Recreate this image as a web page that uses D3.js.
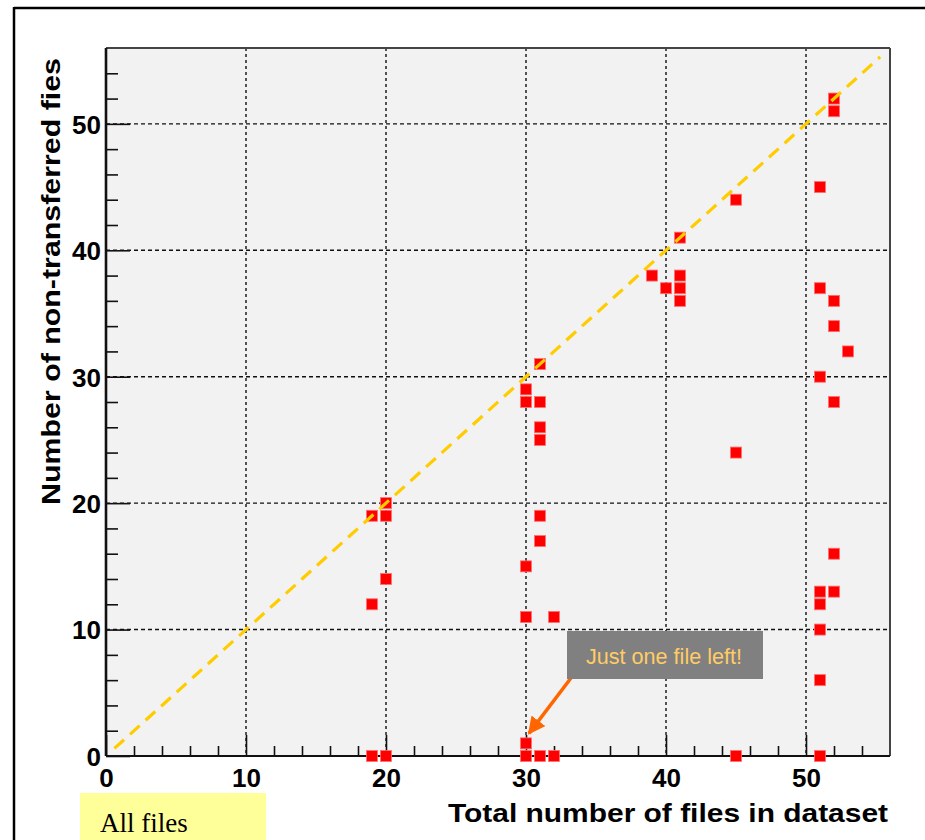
<!DOCTYPE html>
<html>
<head>
<meta charset="utf-8">
<script src="https://cdn.jsdelivr.net/npm/d3@7/dist/d3.min.js"></script>
<style>
  html, body { margin: 0; padding: 0; background: #ffffff; }
  svg { display: block; }
</style>
</head>
<body>
<svg id="chart" width="925" height="840"></svg>
<script>
// ---- data ----
const xTotal = [19,19,19, 20,20,20,20, 30,30,30,30,30,30, 31,31,31,31,31,31,31, 32,32, 39, 40, 41,41,41,41, 45,45,45, 51,51,51,51,51,51,51,51, 52,52,52,52,52,52,52, 53];
const yLeft  = [19,12,0, 20,19,14,0, 29,28,15,11,1,0, 31,28,26,25,19,17,0, 11,0, 38, 37, 41,38,37,36, 44,24,0, 45,37,30,13,12,10,6,0, 52,51,36,34,28,16,13, 32];
const majorTicks = [0,10,20,30,40,50];
const minorTicks = [2,4,6,8,12,14,16,18,22,24,26,28,32,34,36,38,42,44,46,48,52,54];
const diagonal = [0.6, 55.3];
const xTitle = "Total number of files in dataset";
const yTitle = "Number of non-transferred fies";
const noteText = "Just one file left!";
const noteTarget = [30, 1];
const tagText = "All files";

// ---- layout ----
const svg = d3.select("#chart");
const L = 106, R = 890, T = 48, B = 756;
const x = d3.scaleLinear().domain([0, 56]).range([L, R]);
const y = d3.scaleLinear().domain([0, 56]).range([B, T]);

// outer frame (top & left)
svg.append("line").attr("x1", 14).attr("x2", 925).attr("y1", 8).attr("y2", 8)
  .attr("stroke", "#000").attr("stroke-width", 2.5);
svg.append("line").attr("x1", 14).attr("x2", 14).attr("y1", 7).attr("y2", 840)
  .attr("stroke", "#000").attr("stroke-width", 2.5);

// plot background
svg.append("rect").attr("x", L).attr("y", T).attr("width", R - L).attr("height", B - T)
  .attr("fill", "#f2f2f2");

// grid
const grid = svg.append("g");
majorTicks.filter(d => d > 0).forEach(d => {
  grid.append("line").attr("x1", x(d)).attr("x2", x(d)).attr("y1", T).attr("y2", B)
    .attr("stroke", "#111").attr("stroke-width", 1.4).attr("stroke-dasharray", "3,3");
  grid.append("line").attr("x1", L).attr("x2", R).attr("y1", y(d)).attr("y2", y(d))
    .attr("stroke", "#111").attr("stroke-width", 1.4).attr("stroke-dasharray", "4,3");
});

// frame top/right
svg.append("line").attr("x1", L).attr("x2", R).attr("y1", T).attr("y2", T)
  .attr("stroke", "#444").attr("stroke-width", 2);
svg.append("line").attr("x1", R).attr("x2", R).attr("y1", T).attr("y2", B)
  .attr("stroke", "#444").attr("stroke-width", 2);

// axes
function styleAxis(g) {
  g.select(".domain").remove();
  g.selectAll(".tick line").attr("stroke", "#111").attr("stroke-width", 1.6);
}
const labelFont = "'Liberation Sans', Arial, Helvetica, sans-serif";

const xMinor = svg.append("g").attr("transform", `translate(0,${B})`)
  .call(d3.axisBottom(x).tickValues(minorTicks).tickSizeInner(-10).tickSizeOuter(0).tickFormat(""));
styleAxis(xMinor);
const xMajor = svg.append("g").attr("transform", `translate(0,${B})`)
  .call(d3.axisBottom(x).tickValues(majorTicks).tickSizeInner(-21).tickSizeOuter(0).tickPadding(31).tickFormat(d3.format("d")));
styleAxis(xMajor);
xMajor.selectAll(".tick text").attr("font-family", labelFont).attr("font-weight", "bold")
  .attr("font-size", 26).attr("fill", "#000").attr("dy", 0).attr("y", 31);

const yMinor = svg.append("g").attr("transform", `translate(${L},0)`)
  .call(d3.axisLeft(y).tickValues(minorTicks).tickSizeInner(-12).tickSizeOuter(0).tickFormat(""));
styleAxis(yMinor);
const yMajor = svg.append("g").attr("transform", `translate(${L},0)`)
  .call(d3.axisLeft(y).tickValues(majorTicks).tickSizeInner(-24).tickSizeOuter(0).tickFormat(d3.format("d")));
styleAxis(yMajor);
yMajor.selectAll(".tick text").attr("font-family", labelFont).attr("font-weight", "bold")
  .attr("font-size", 26).attr("fill", "#000").attr("x", -5).attr("dy", "0.36em");

// axis lines
svg.append("line").attr("x1", L).attr("x2", R).attr("y1", B).attr("y2", B)
  .attr("stroke", "#111").attr("stroke-width", 2.2);
svg.append("line").attr("x1", L).attr("x2", L).attr("y1", T).attr("y2", B)
  .attr("stroke", "#111").attr("stroke-width", 2.6);

// points
const pts = xTotal.map((d, i) => ({ x: d, y: yLeft[i] }));
svg.append("g").selectAll("rect").data(pts).join("rect")
  .attr("x", d => x(d.x) - 5.5).attr("y", d => y(d.y) - 5.5)
  .attr("width", 11).attr("height", 11)
  .attr("fill", "#ff0000").attr("stroke", "#ff7070").attr("stroke-width", 0.8);

// diagonal y = x
svg.append("line")
  .attr("x1", x(diagonal[0])).attr("y1", y(diagonal[0]))
  .attr("x2", x(diagonal[1])).attr("y2", y(diagonal[1]))
  .attr("stroke", "#ffcc00").attr("stroke-width", 3.2).attr("stroke-dasharray", "13,8");

// axis titles
svg.append("text").attr("x", 888).attr("y", 822).attr("text-anchor", "end")
  .attr("font-family", labelFont).attr("font-weight", "bold").attr("font-size", 25)
  .attr("textLength", 440).attr("lengthAdjust", "spacingAndGlyphs")
  .text(xTitle);
svg.append("text").attr("transform", "translate(60,505) rotate(-90)")
  .attr("x", 0).attr("y", 0).attr("text-anchor", "start")
  .attr("font-family", labelFont).attr("font-weight", "bold").attr("font-size", 25)
  .attr("textLength", 447).attr("lengthAdjust", "spacingAndGlyphs")
  .text(yTitle);

// annotation
svg.append("defs").append("marker").attr("id", "arrow")
  .attr("viewBox", "0 0 10 10").attr("refX", 9).attr("refY", 5)
  .attr("markerWidth", 5).attr("markerHeight", 5).attr("markerUnits", "strokeWidth")
  .attr("orient", "auto")
  .append("path").attr("d", "M0,0 L10,5 L0,10 Z").attr("fill", "#ff6600");
svg.append("line").attr("x1", 571).attr("y1", 678)
  .attr("x2", x(noteTarget[0]) + 3).attr("y2", y(noteTarget[1]) - 10)
  .attr("stroke", "#ff6600").attr("stroke-width", 3.5).attr("marker-end", "url(#arrow)");
svg.append("rect").attr("x", 567).attr("y", 631).attr("width", 196).attr("height", 48)
  .attr("fill", "#808080");
svg.append("text").attr("x", 664).attr("y", 664).attr("text-anchor", "middle")
  .attr("font-family", "'Liberation Sans Narrow', 'Arial Narrow', 'Liberation Sans', sans-serif")
  .attr("font-size", 22).attr("fill", "#ffcc66")
  .attr("textLength", 156).attr("lengthAdjust", "spacingAndGlyphs")
  .text(noteText);

// tag box
svg.append("rect").attr("x", 80).attr("y", 793).attr("width", 186).attr("height", 50)
  .attr("fill", "#ffff99");
svg.append("text").attr("x", 100).attr("y", 832)
  .attr("font-family", "'Liberation Serif', 'Times New Roman', serif")
  .attr("font-size", 27).attr("fill", "#000")
  .text(tagText);
</script>
</body>
</html>
